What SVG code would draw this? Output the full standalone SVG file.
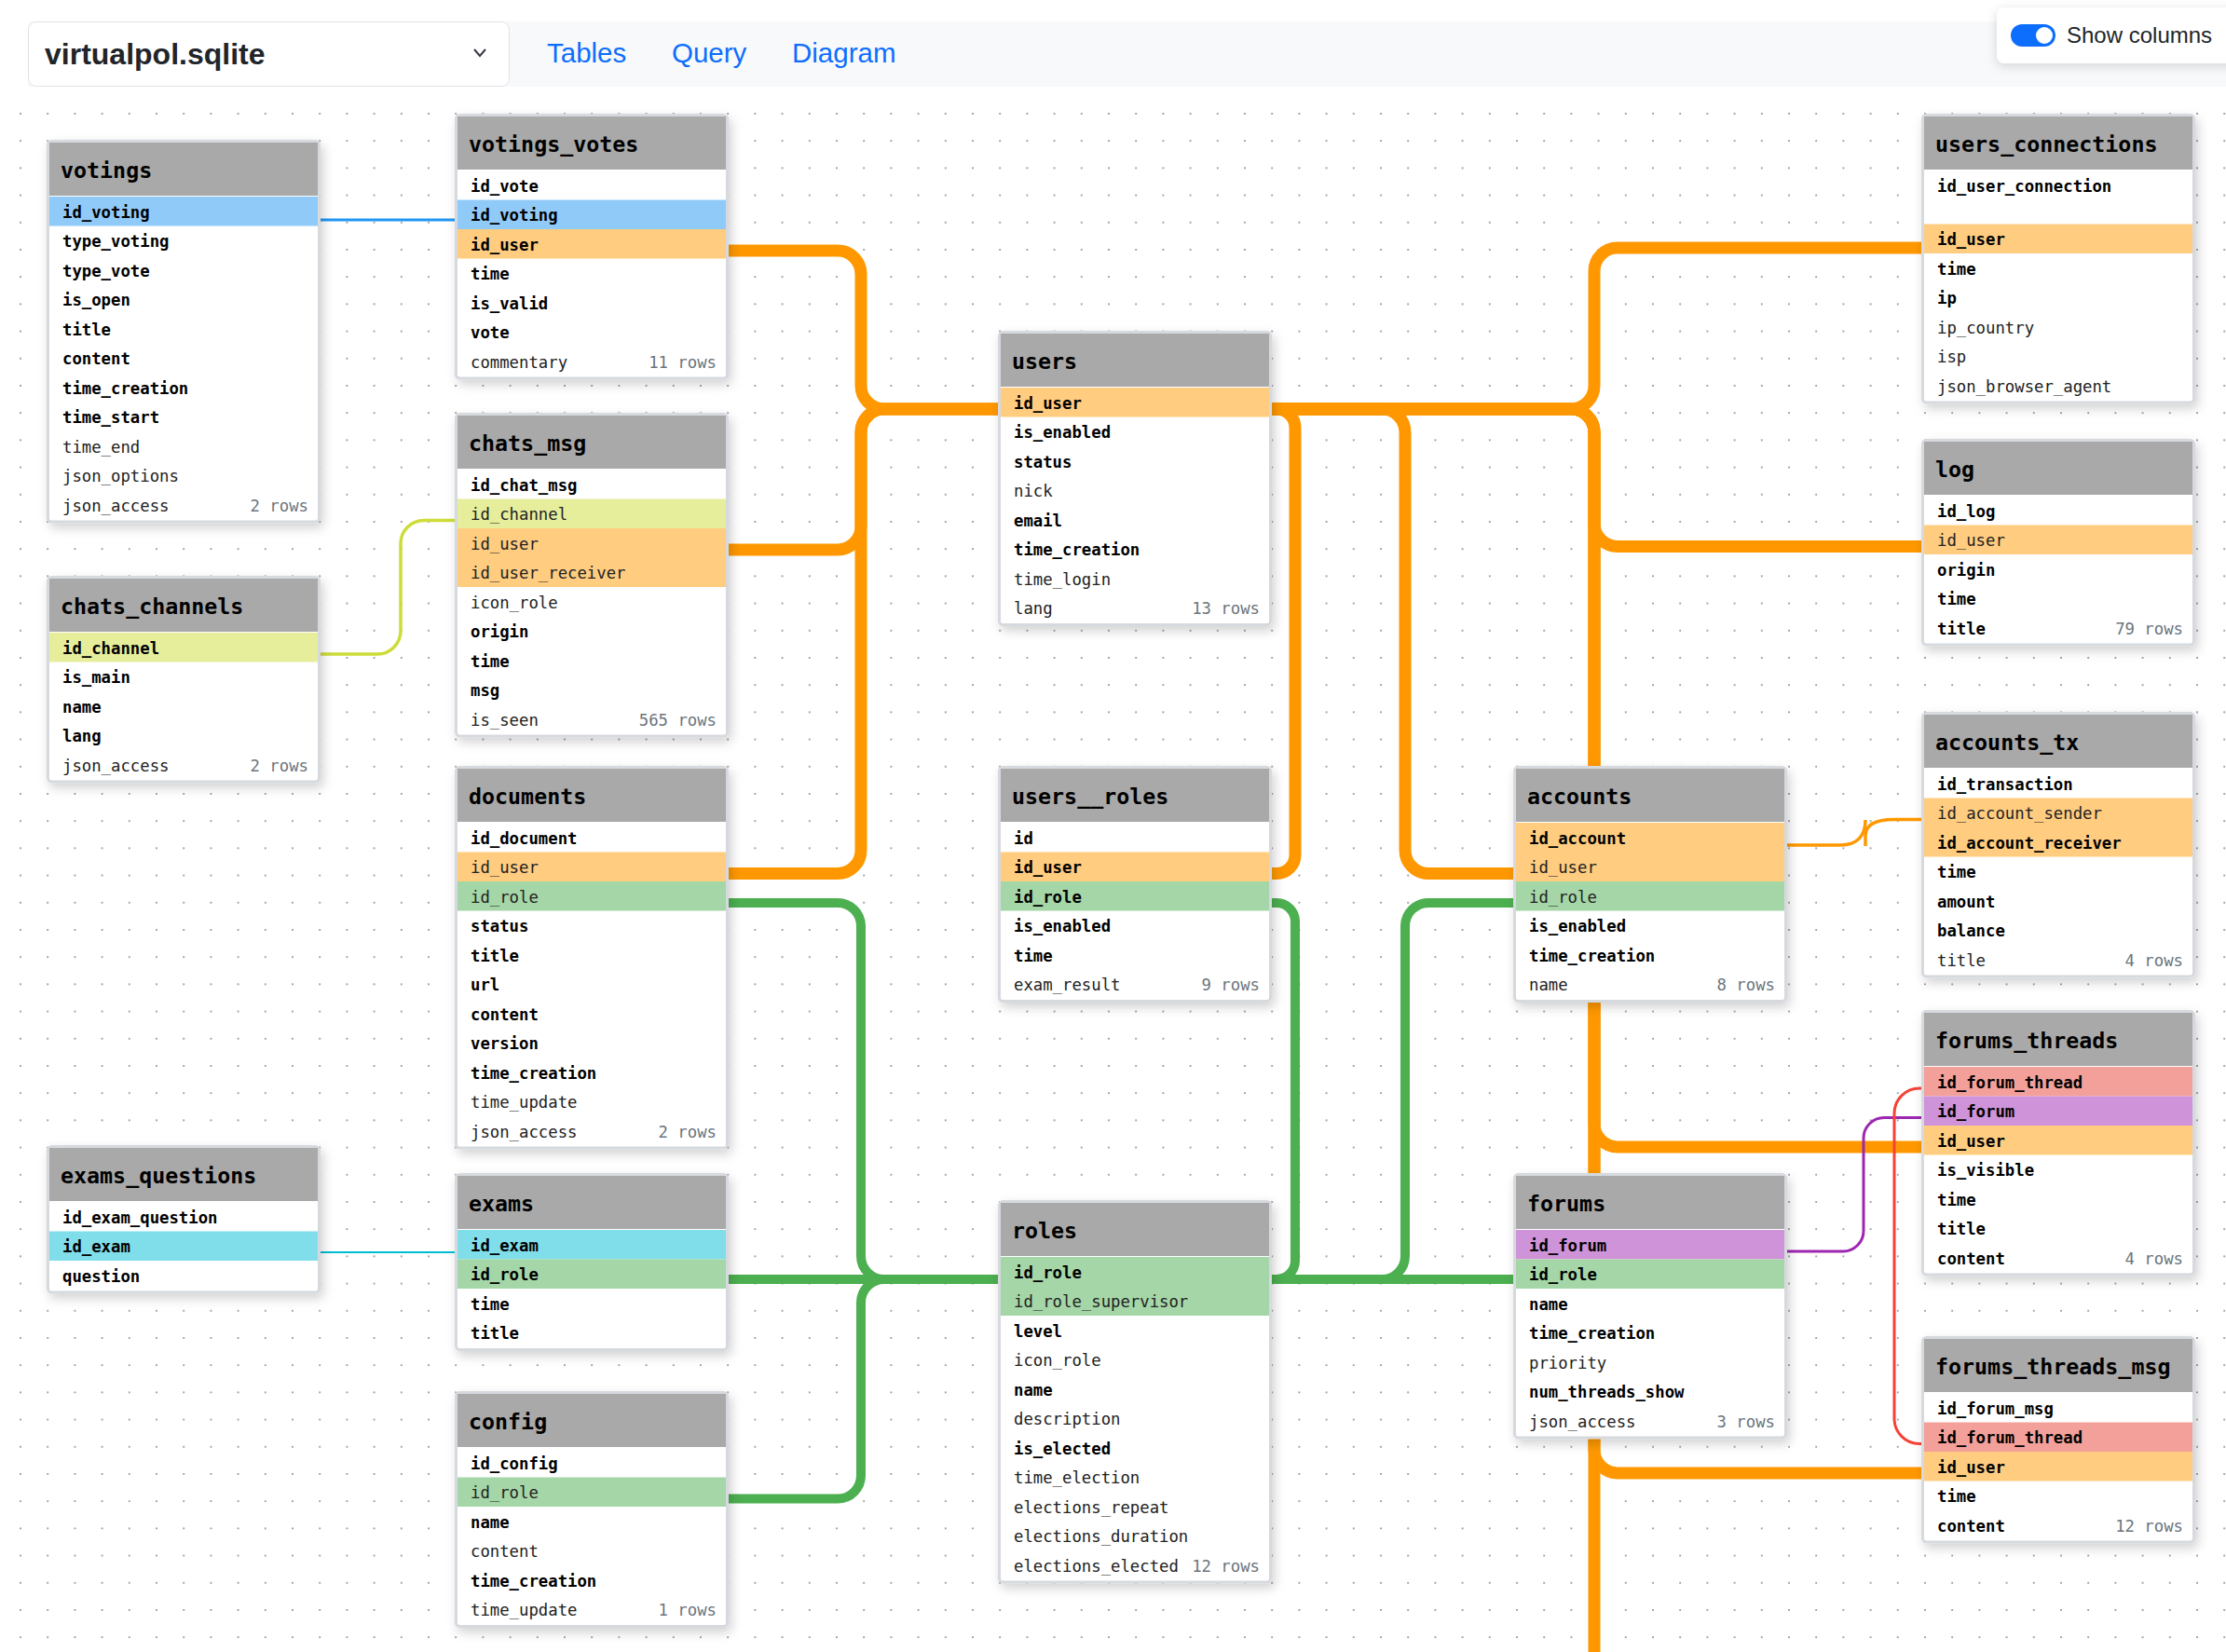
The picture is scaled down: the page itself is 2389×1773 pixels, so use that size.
<svg xmlns="http://www.w3.org/2000/svg" width="2389" height="1773" viewBox="0 0 2389 1773">
<defs>
<pattern id="dots" x="21" y="121" width="29.2" height="29.2" patternUnits="userSpaceOnUse"><circle cx="1" cy="1" r="1" fill="#8a8a8a"/></pattern>
<filter id="sh" x="-10%" y="-10%" width="125%" height="125%"><feDropShadow dx="3" dy="5" stdDeviation="6" flood-color="#000" flood-opacity="0.18"/></filter>
<filter id="sh2" x="-10%" y="-30%" width="125%" height="170%"><feDropShadow dx="0" dy="3" stdDeviation="6" flood-color="#000" flood-opacity="0.15"/></filter>
</defs>
<style>
.card{fill:#fff;stroke:#d6d9de;stroke-width:3;filter:url(#sh)}
.hdr{fill:#a9a9a9}
.th{font-family:"DejaVu Sans Mono",monospace;font-size:23.3px;font-weight:bold;fill:#000;transform:translateY(1.5px)}
.b{font-family:"DejaVu Sans Mono",monospace;font-size:17.3px;font-weight:bold;fill:#000;transform:translateY(1.2px)}
.n{font-family:"DejaVu Sans Mono",monospace;font-size:17.3px;fill:#222;transform:translateY(1.2px)}
.c{font-family:"DejaVu Sans Mono",monospace;font-size:17.3px;fill:#6c757d;text-anchor:end;transform:translateY(1.2px)}
.blue{fill:#90caf9}.org{fill:#ffcc80}.lime{fill:#e6ee9c}.grn{fill:#a5d6a7}.cyan{fill:#80deea}.red{fill:#f4a09a}.pur{fill:#ce93d8}
.l{fill:none;stroke-linecap:butt;stroke-linejoin:round}
.lo{stroke:#ff9800;stroke-width:13}
.lg{stroke:#4caf50;stroke-width:10}
.lb{stroke:#2196f3;stroke-width:3}
.ll{stroke:#cddc39;stroke-width:3.5}
.lc{stroke:#00bcd4;stroke-width:2}
.lr{stroke:#f44336;stroke-width:3}
.lp{stroke:#9c27b0;stroke-width:3}
.lt{stroke:#ff9800;stroke-width:3.5}
.nav{font-family:"Liberation Sans",Arial,sans-serif;font-size:29.5px;fill:#0d6efd}
</style>
<rect width="2389" height="1773" fill="#fff"/>
<rect x="0" y="105" width="2389" height="1668" fill="url(#dots)"/>

<g id="topbar">
<rect x="30" y="23" width="2359" height="70" fill="#f8f9fa"/>
<rect x="30.5" y="23.5" width="516" height="69" rx="8" fill="#fff" stroke="#dee2e6" stroke-width="1"/>
<text x="48" y="69" font-family="Liberation Sans,Arial,sans-serif" font-size="32" font-weight="bold" fill="#212529">virtualpol.sqlite</text>
<path d="M509,53 L515,60 L521,53" fill="none" stroke="#343a40" stroke-width="2"/>
<text class="nav" x="587" y="67">Tables</text>
<text class="nav" x="721" y="67">Query</text>
<text class="nav" x="850" y="67">Diagram</text>
<rect x="2143" y="8" width="260" height="60" rx="8" fill="#fff" filter="url(#sh2)"/>
<rect x="2158" y="26" width="48" height="24" rx="12" fill="#0d6efd"/>
<circle cx="2194" cy="38" r="9" fill="#fff"/>
<text x="2218" y="46" font-family="Liberation Sans,Arial,sans-serif" font-size="24" fill="#212529">Show columns</text>
</g>

<g id="connectors">
<path class="l lb" d="M342,236 H490"/>
<path class="l ll" d="M342,702 H405 A25,25 0 0 0 430,677 V583.5 A25,25 0 0 1 455,558.5 H490"/>
<path class="l lc" d="M342,1344 H490"/>
<path class="l lo" d="M780,269 H899 A25,25 0 0 1 924,294 V414 A25,25 0 0 0 949,439 H1073"/>
<path class="l lo" d="M780,590 H899 A25,25 0 0 0 924,565 V464 A25,25 0 0 1 949,439 H1073"/>
<path class="l lo" d="M780,937.5 H899 A25,25 0 0 0 924,912.5 V464 A25,25 0 0 1 949,439 H1073"/>
<path class="l lo" d="M1363,439 H1686 A25,25 0 0 0 1711,414 V291 A25,25 0 0 1 1736,266 H2064"/>
<path class="l lo" d="M1363,439 H1686 A25,25 0 0 1 1711,464 V561.5 A25,25 0 0 0 1736,586.5 H2064"/>
<path class="l lo" d="M1363,439 H1686 A25,25 0 0 1 1711,464 V1206 A25,25 0 0 0 1736,1231 H2064"/>
<path class="l lo" d="M1363,439 H1686 A25,25 0 0 1 1711,464 V1556 A25,25 0 0 0 1736,1581 H2064"/>
<path class="l lo" d="M1363,439 H1686 A25,25 0 0 1 1711,464 V1790"/>
<path class="l lo" d="M1363,439 H1370 A20,20 0 0 1 1390,459 V917.5 A20,20 0 0 1 1370,937.5 H1363"/>
<path class="l lo" d="M1363,439 H1483 A25,25 0 0 1 1508,464 V912.5 A25,25 0 0 0 1533,937.5 H1626"/>
<path class="l lt" d="M1914,907 H1975 C1995,907 2002,895 2002,880"/>
<path class="l lt" d="M2002,908 V897 C2002,885 2012,879.5 2033,879.5 H2064"/>
<path class="l lg" d="M780,969 H899 A25,25 0 0 1 924,994 V1348 A25,25 0 0 0 949,1373 H1073"/>
<path class="l lg" d="M780,1373 H1073"/>
<path class="l lg" d="M780,1608.5 H899 A25,25 0 0 0 924,1583.5 V1398 A25,25 0 0 1 949,1373 H1073"/>
<path class="l lg" d="M1363,1373 H1626"/>
<path class="l lg" d="M1363,1373 H1370 A20,20 0 0 0 1390,1353 V989 A20,20 0 0 0 1370,969 H1363"/>
<path class="l lg" d="M1363,1373 H1483 A25,25 0 0 0 1508,1348 V994 A25,25 0 0 1 1533,969 H1626"/>
<path class="l lp" d="M1914,1343 H1978 A22,22 0 0 0 2000,1321 V1221.5 A22,22 0 0 1 2022,1199.5 H2064"/>
<path class="l lr" d="M2064,1168 H2060 A27,27 0 0 0 2033,1195 V1522.5 A27,27 0 0 0 2060,1549.5 H2064"/>
</g>

<g id="t-votings">
<rect class="card" x="51.5" y="151.5" width="291" height="408.5" rx="4"/>
<rect class="hdr" x="53" y="153" width="288" height="57"/>
<rect class="blue" x="53" y="211" width="288" height="31.5"/>
<text class="th" x="65" y="189">votings</text>
<text class="b" x="67" y="232.5">id_voting</text>
<text class="b" x="67" y="264">type_voting</text>
<text class="b" x="67" y="295.5">type_vote</text>
<text class="b" x="67" y="327">is_open</text>
<text class="b" x="67" y="358.5">title</text>
<text class="b" x="67" y="390">content</text>
<text class="b" x="67" y="421.5">time_creation</text>
<text class="b" x="67" y="453">time_start</text>
<text class="n" x="67" y="484.5">time_end</text>
<text class="n" x="67" y="516">json_options</text>
<text class="n" x="67" y="547.5">json_access</text>
<text class="c" x="331" y="547.5">2 rows</text>
</g>

<g id="t-chats_channels">
<rect class="card" x="51.5" y="619.5" width="291" height="219.5" rx="4"/>
<rect class="hdr" x="53" y="621" width="288" height="57"/>
<rect class="lime" x="53" y="679" width="288" height="31.5"/>
<text class="th" x="65" y="657">chats_channels</text>
<text class="b" x="67" y="700.5">id_channel</text>
<text class="b" x="67" y="732">is_main</text>
<text class="b" x="67" y="763.5">name</text>
<text class="b" x="67" y="795">lang</text>
<text class="n" x="67" y="826.5">json_access</text>
<text class="c" x="331" y="826.5">2 rows</text>
</g>

<g id="t-exams_questions">
<rect class="card" x="51.5" y="1230.5" width="291" height="156.5" rx="4"/>
<rect class="hdr" x="53" y="1232" width="288" height="57"/>
<rect class="cyan" x="53" y="1321.5" width="288" height="31.5"/>
<text class="th" x="65" y="1268">exams_questions</text>
<text class="b" x="67" y="1311.5">id_exam_question</text>
<text class="b" x="67" y="1343">id_exam</text>
<text class="b" x="67" y="1374.5">question</text>
</g>

<g id="t-votings_votes">
<rect class="card" x="489.5" y="123.5" width="291" height="282.5" rx="4"/>
<rect class="hdr" x="491" y="125" width="288" height="57"/>
<rect class="blue" x="491" y="214.5" width="288" height="31.5"/>
<rect class="org" x="491" y="246" width="288" height="31.5"/>
<text class="th" x="503" y="161">votings_votes</text>
<text class="b" x="505" y="204.5">id_vote</text>
<text class="b" x="505" y="236">id_voting</text>
<text class="b" x="505" y="267.5">id_user</text>
<text class="b" x="505" y="299">time</text>
<text class="b" x="505" y="330.5">is_valid</text>
<text class="b" x="505" y="362">vote</text>
<text class="n" x="505" y="393.5">commentary</text>
<text class="c" x="769" y="393.5">11 rows</text>
</g>

<g id="t-chats_msg">
<rect class="card" x="489.5" y="444.5" width="291" height="345.5" rx="4"/>
<rect class="hdr" x="491" y="446" width="288" height="57"/>
<rect class="lime" x="491" y="535.5" width="288" height="31.5"/>
<rect class="org" x="491" y="567" width="288" height="63"/>
<text class="th" x="503" y="482">chats_msg</text>
<text class="b" x="505" y="525.5">id_chat_msg</text>
<text class="n" x="505" y="557">id_channel</text>
<text class="n" x="505" y="588.5">id_user</text>
<text class="n" x="505" y="620">id_user_receiver</text>
<text class="n" x="505" y="651.5">icon_role</text>
<text class="b" x="505" y="683">origin</text>
<text class="b" x="505" y="714.5">time</text>
<text class="b" x="505" y="746">msg</text>
<text class="n" x="505" y="777.5">is_seen</text>
<text class="c" x="769" y="777.5">565 rows</text>
</g>

<g id="t-documents">
<rect class="card" x="489.5" y="823.5" width="291" height="408.5" rx="4"/>
<rect class="hdr" x="491" y="825" width="288" height="57"/>
<rect class="org" x="491" y="914.5" width="288" height="31.5"/>
<rect class="grn" x="491" y="946" width="288" height="31.5"/>
<text class="th" x="503" y="861">documents</text>
<text class="b" x="505" y="904.5">id_document</text>
<text class="n" x="505" y="936">id_user</text>
<text class="n" x="505" y="967.5">id_role</text>
<text class="b" x="505" y="999">status</text>
<text class="b" x="505" y="1030.5">title</text>
<text class="b" x="505" y="1062">url</text>
<text class="b" x="505" y="1093.5">content</text>
<text class="b" x="505" y="1125">version</text>
<text class="b" x="505" y="1156.5">time_creation</text>
<text class="n" x="505" y="1188">time_update</text>
<text class="n" x="505" y="1219.5">json_access</text>
<text class="c" x="769" y="1219.5">2 rows</text>
</g>

<g id="t-exams">
<rect class="card" x="489.5" y="1260.5" width="291" height="188" rx="4"/>
<rect class="hdr" x="491" y="1262" width="288" height="57"/>
<rect class="cyan" x="491" y="1320" width="288" height="31.5"/>
<rect class="grn" x="491" y="1351.5" width="288" height="31.5"/>
<text class="th" x="503" y="1298">exams</text>
<text class="b" x="505" y="1341.5">id_exam</text>
<text class="b" x="505" y="1373">id_role</text>
<text class="b" x="505" y="1404.5">time</text>
<text class="b" x="505" y="1436">title</text>
</g>

<g id="t-config">
<rect class="card" x="489.5" y="1494.5" width="291" height="251" rx="4"/>
<rect class="hdr" x="491" y="1496" width="288" height="57"/>
<rect class="grn" x="491" y="1585.5" width="288" height="31.5"/>
<text class="th" x="503" y="1532">config</text>
<text class="b" x="505" y="1575.5">id_config</text>
<text class="n" x="505" y="1607">id_role</text>
<text class="b" x="505" y="1638.5">name</text>
<text class="n" x="505" y="1670">content</text>
<text class="b" x="505" y="1701.5">time_creation</text>
<text class="n" x="505" y="1733">time_update</text>
<text class="c" x="769" y="1733">1 rows</text>
</g>

<g id="t-users">
<rect class="card" x="1072.5" y="356.5" width="291" height="314" rx="4"/>
<rect class="hdr" x="1074" y="358" width="288" height="57"/>
<rect class="org" x="1074" y="416" width="288" height="31.5"/>
<text class="th" x="1086" y="394">users</text>
<text class="b" x="1088" y="437.5">id_user</text>
<text class="b" x="1088" y="469">is_enabled</text>
<text class="b" x="1088" y="500.5">status</text>
<text class="n" x="1088" y="532">nick</text>
<text class="b" x="1088" y="563.5">email</text>
<text class="b" x="1088" y="595">time_creation</text>
<text class="n" x="1088" y="626.5">time_login</text>
<text class="n" x="1088" y="658">lang</text>
<text class="c" x="1352" y="658">13 rows</text>
</g>

<g id="t-users__roles">
<rect class="card" x="1072.5" y="823.5" width="291" height="251" rx="4"/>
<rect class="hdr" x="1074" y="825" width="288" height="57"/>
<rect class="org" x="1074" y="914.5" width="288" height="31.5"/>
<rect class="grn" x="1074" y="946" width="288" height="31.5"/>
<text class="th" x="1086" y="861">users__roles</text>
<text class="b" x="1088" y="904.5">id</text>
<text class="b" x="1088" y="936">id_user</text>
<text class="b" x="1088" y="967.5">id_role</text>
<text class="b" x="1088" y="999">is_enabled</text>
<text class="b" x="1088" y="1030.5">time</text>
<text class="n" x="1088" y="1062">exam_result</text>
<text class="c" x="1352" y="1062">9 rows</text>
</g>

<g id="t-roles">
<rect class="card" x="1072.5" y="1289.5" width="291" height="408.5" rx="4"/>
<rect class="hdr" x="1074" y="1291" width="288" height="57"/>
<rect class="grn" x="1074" y="1349" width="288" height="63"/>
<text class="th" x="1086" y="1327">roles</text>
<text class="b" x="1088" y="1370.5">id_role</text>
<text class="n" x="1088" y="1402">id_role_supervisor</text>
<text class="b" x="1088" y="1433.5">level</text>
<text class="n" x="1088" y="1465">icon_role</text>
<text class="b" x="1088" y="1496.5">name</text>
<text class="n" x="1088" y="1528">description</text>
<text class="b" x="1088" y="1559.5">is_elected</text>
<text class="n" x="1088" y="1591">time_election</text>
<text class="n" x="1088" y="1622.5">elections_repeat</text>
<text class="n" x="1088" y="1654">elections_duration</text>
<text class="n" x="1088" y="1685.5">elections_elected</text>
<text class="c" x="1352" y="1685.5">12 rows</text>
</g>

<g id="t-accounts">
<rect class="card" x="1625.5" y="823.5" width="291" height="251" rx="4"/>
<rect class="hdr" x="1627" y="825" width="288" height="57"/>
<rect class="org" x="1627" y="883" width="288" height="63"/>
<rect class="grn" x="1627" y="946" width="288" height="31.5"/>
<text class="th" x="1639" y="861">accounts</text>
<text class="b" x="1641" y="904.5">id_account</text>
<text class="n" x="1641" y="936">id_user</text>
<text class="n" x="1641" y="967.5">id_role</text>
<text class="b" x="1641" y="999">is_enabled</text>
<text class="b" x="1641" y="1030.5">time_creation</text>
<text class="n" x="1641" y="1062">name</text>
<text class="c" x="1905" y="1062">8 rows</text>
</g>

<g id="t-forums">
<rect class="card" x="1625.5" y="1260.5" width="291" height="282.5" rx="4"/>
<rect class="hdr" x="1627" y="1262" width="288" height="57"/>
<rect class="pur" x="1627" y="1320" width="288" height="31.5"/>
<rect class="grn" x="1627" y="1351.5" width="288" height="31.5"/>
<text class="th" x="1639" y="1298">forums</text>
<text class="b" x="1641" y="1341.5">id_forum</text>
<text class="b" x="1641" y="1373">id_role</text>
<text class="b" x="1641" y="1404.5">name</text>
<text class="b" x="1641" y="1436">time_creation</text>
<text class="n" x="1641" y="1467.5">priority</text>
<text class="b" x="1641" y="1499">num_threads_show</text>
<text class="n" x="1641" y="1530.5">json_access</text>
<text class="c" x="1905" y="1530.5">3 rows</text>
</g>

<g id="t-users_connections">
<rect class="card" x="2063.5" y="123.5" width="291" height="308.5" rx="4"/>
<rect class="hdr" x="2065" y="125" width="288" height="57"/>
<rect class="org" x="2065" y="240.5" width="288" height="31.5"/>
<text class="th" x="2077" y="161">users_connections</text>
<text class="b" x="2079" y="204.5">id_user_connection</text>
<text class="b" x="2079" y="262">id_user</text>
<text class="b" x="2079" y="293.5">time</text>
<text class="b" x="2079" y="325">ip</text>
<text class="n" x="2079" y="356.5">ip_country</text>
<text class="n" x="2079" y="388">isp</text>
<text class="n" x="2079" y="419.5">json_browser_agent</text>
</g>

<g id="t-log">
<rect class="card" x="2063.5" y="472.5" width="291" height="219.5" rx="4"/>
<rect class="hdr" x="2065" y="474" width="288" height="57"/>
<rect class="org" x="2065" y="563.5" width="288" height="31.5"/>
<text class="th" x="2077" y="510">log</text>
<text class="b" x="2079" y="553.5">id_log</text>
<text class="n" x="2079" y="585">id_user</text>
<text class="b" x="2079" y="616.5">origin</text>
<text class="b" x="2079" y="648">time</text>
<text class="b" x="2079" y="679.5">title</text>
<text class="c" x="2343" y="679.5">79 rows</text>
</g>

<g id="t-accounts_tx">
<rect class="card" x="2063.5" y="765.5" width="291" height="282.5" rx="4"/>
<rect class="hdr" x="2065" y="767" width="288" height="57"/>
<rect class="org" x="2065" y="856.5" width="288" height="63"/>
<text class="th" x="2077" y="803">accounts_tx</text>
<text class="b" x="2079" y="846.5">id_transaction</text>
<text class="n" x="2079" y="878">id_account_sender</text>
<text class="b" x="2079" y="909.5">id_account_receiver</text>
<text class="b" x="2079" y="941">time</text>
<text class="b" x="2079" y="972.5">amount</text>
<text class="b" x="2079" y="1004">balance</text>
<text class="n" x="2079" y="1035.5">title</text>
<text class="c" x="2343" y="1035.5">4 rows</text>
</g>

<g id="t-forums_threads">
<rect class="card" x="2063.5" y="1085.5" width="291" height="282.5" rx="4"/>
<rect class="hdr" x="2065" y="1087" width="288" height="57"/>
<rect class="red" x="2065" y="1145" width="288" height="31.5"/>
<rect class="pur" x="2065" y="1176.5" width="288" height="31.5"/>
<rect class="org" x="2065" y="1208" width="288" height="31.5"/>
<text class="th" x="2077" y="1123">forums_threads</text>
<text class="b" x="2079" y="1166.5">id_forum_thread</text>
<text class="b" x="2079" y="1198">id_forum</text>
<text class="b" x="2079" y="1229.5">id_user</text>
<text class="b" x="2079" y="1261">is_visible</text>
<text class="b" x="2079" y="1292.5">time</text>
<text class="b" x="2079" y="1324">title</text>
<text class="b" x="2079" y="1355.5">content</text>
<text class="c" x="2343" y="1355.5">4 rows</text>
</g>

<g id="t-forums_threads_msg">
<rect class="card" x="2063.5" y="1435.5" width="291" height="219.5" rx="4"/>
<rect class="hdr" x="2065" y="1437" width="288" height="57"/>
<rect class="red" x="2065" y="1526.5" width="288" height="31.5"/>
<rect class="org" x="2065" y="1558" width="288" height="31.5"/>
<text class="th" x="2077" y="1473">forums_threads_msg</text>
<text class="b" x="2079" y="1516.5">id_forum_msg</text>
<text class="b" x="2079" y="1548">id_forum_thread</text>
<text class="b" x="2079" y="1579.5">id_user</text>
<text class="b" x="2079" y="1611">time</text>
<text class="b" x="2079" y="1642.5">content</text>
<text class="c" x="2343" y="1642.5">12 rows</text>
</g>
</svg>
